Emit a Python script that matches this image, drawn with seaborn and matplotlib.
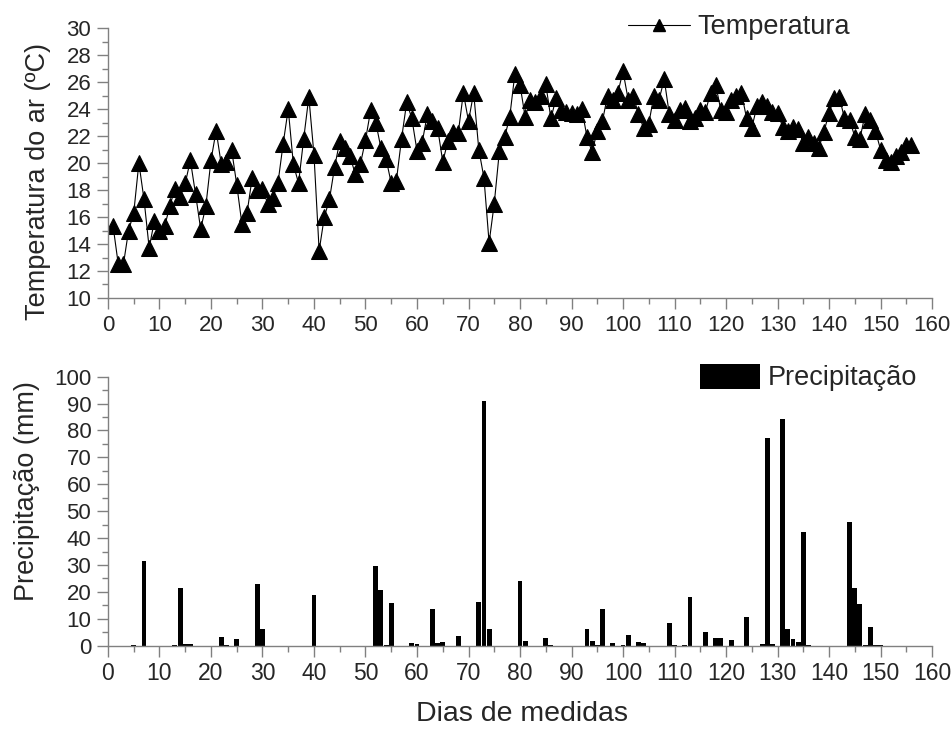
import seaborn as sns
import pandas as pd
import matplotlib.pyplot as plt
import numpy as np
from matplotlib.ticker import MultipleLocator
from matplotlib.lines import Line2D
from matplotlib.patches import Patch

sns.set_theme(style='ticks')
plt.rcParams['font.family'] = ['Liberation Sans', 'DejaVu Sans']

# temperatura media diaria (dias 1..156)
dias = np.arange(1, 157)
temperatura = [
    15.3, 12.5, 12.5, 15.0, 16.3, 20.0, 17.3, 13.7, 15.7, 15.0,
    15.3, 16.8, 18.1, 17.5, 18.5, 20.2, 17.7, 15.1, 16.8, 20.2,
    22.4, 19.9, 20.1, 21.0, 18.4, 15.5, 16.3, 18.9, 18.0, 18.1,
    17.0, 17.4, 18.5, 21.4, 24.0, 19.9, 18.5, 21.8, 24.9, 20.6,
    13.5, 16.0, 17.3, 19.7, 21.6, 21.1, 20.5, 19.2, 19.9, 21.7,
    23.9, 23.0, 21.1, 20.3, 18.5, 18.7, 21.8, 24.5, 23.3, 20.9,
    21.5, 23.6, 23.1, 22.6, 20.1, 21.6, 22.3, 22.2, 25.2, 23.1,
    25.2, 21.0, 18.9, 14.1, 17.0, 20.9, 21.9, 23.4, 26.6, 25.8,
    23.4, 24.7, 24.5, 25.0, 25.85, 23.3, 24.8, 23.9, 23.8, 23.7,
    23.6, 24.0, 21.95, 20.8, 22.4, 23.1, 25.0, 24.7, 25.2, 26.8,
    24.7, 25.0, 23.6, 22.6, 22.9, 25.0, 24.7, 26.2, 23.6, 23.2,
    23.9, 24.1, 23.1, 23.3, 23.9, 23.8, 25.2, 25.8, 23.9, 23.8,
    24.7, 25.0, 25.2, 23.3, 22.6, 24.2, 24.5, 24.2, 23.8, 23.7,
    22.7, 22.4, 22.7, 22.5, 21.5, 21.95, 21.5, 21.1, 22.3, 23.7,
    24.8, 24.9, 23.3, 23.2, 21.95, 21.8, 23.6, 23.2, 22.4, 21.0,
    20.2, 20.05, 20.5, 20.8, 21.3, 21.3,
]

# precipitacao (dias com chuva)
chuva_dias = [5, 7, 13, 14, 15, 16, 22, 23, 25, 29, 30, 40, 52, 53, 54, 55,
              59, 60, 63, 64, 65, 68, 72, 73, 74, 80, 81, 85, 86, 93, 94, 95,
              96, 98, 100, 101, 103, 104, 109, 110, 112, 113, 116, 118, 119,
              121, 124, 127, 128, 129, 131, 132, 133, 134, 135, 136, 144, 145,
              146, 147, 148, 149, 150]
chuva_mm = [0.3, 31.3, 0.3, 21.4, 0.8, 0.5, 3.2, 0.3, 2.5, 23.1, 6.2, 18.7,
            29.5, 20.8, 0.3, 15.7, 1.1, 0.6, 13.7, 1.1, 1.5, 3.6, 16.1, 90.9,
            6.3, 24.1, 1.9, 3.0, 0.3, 6.3, 1.9, 0.3, 13.6, 1.0, 0.4, 4.1,
            1.5, 1.1, 8.6, 0.3, 0.3, 18.1, 5.2, 2.9, 3.0, 2.0, 10.7, 0.5,
            77.1, 0.8, 84.1, 6.2, 2.4, 1.2, 42.3, 0.3, 46.1, 21.3, 15.6, 0.3,
            6.9, 0.3, 0.2]

temp_df = pd.DataFrame({'Dia': dias, 'Temperatura': temperatura})
chuva_df = pd.DataFrame({'Dia': chuva_dias, 'Precipitacao': chuva_mm})

fig = plt.figure(figsize=(9.53, 7.32), dpi=100)
ax1 = fig.add_axes([0.1133, 0.5929, 0.8647, 0.3688])
ax2 = fig.add_axes([0.1133, 0.1179, 0.8647, 0.3675])

sns.lineplot(data=temp_df, x='Dia', y='Temperatura', ax=ax1, color='black',
             lw=0.8, marker='^', markersize=11, markeredgecolor='black', legend=False)
sns.barplot(data=chuva_df, x='Dia', y='Precipitacao', ax=ax2, native_scale=True,
            width=0.95, color='black', saturation=1, edgecolor='none', errorbar=None)

grey = '#808080'
for ax in (ax1, ax2):
    sns.despine(ax=ax)
    ax.set_xlim(0, 160)
    ax.xaxis.set_major_locator(MultipleLocator(10))
    ax.xaxis.set_minor_locator(MultipleLocator(5))
    for s in ('left', 'bottom'):
        ax.spines[s].set_color(grey)
        ax.spines[s].set_linewidth(1.0)
    ax.tick_params(which='major', length=8, width=1, color=grey, labelsize=16, pad=4)
    ax.tick_params(which='minor', length=4.5, width=1, color=grey)
    ax.set_facecolor('white')

ax1.set_ylim(10, 30)
ax1.yaxis.set_major_locator(MultipleLocator(2))
ax1.yaxis.set_minor_locator(MultipleLocator(1))
ax1.set_xlabel('')
ax1.set_ylabel('Temperatura do ar (ºC)', fontsize=19.5)
ax1.yaxis.set_label_coords(-0.069, 0.43)

ax2.set_ylim(0, 100)
ax2.yaxis.set_major_locator(MultipleLocator(10))
ax2.yaxis.set_minor_locator(MultipleLocator(5))
ax2.set_ylabel('Precipitação (mm)', fontsize=19.5)
ax2.yaxis.set_label_coords(-0.083, 0.575)
ax2.set_xlabel('Dias de medidas', fontsize=20.5)
ax2.xaxis.set_label_coords(0.502, -0.205)
for lab in ax2.get_xticklabels():
    lab.set_fontsize(16.5)

h1 = Line2D([], [], color='black', lw=0.8, marker='^', markersize=9)
ax1.legend([h1], ['Temperatura'], loc='center left', frameon=False,
           bbox_to_anchor=(628 / 953, 1 - 27 / 732), bbox_transform=fig.transFigure,
           fontsize=19.5, handlelength=2.3, handletextpad=0.25,
           borderpad=0, borderaxespad=0)
h2 = Patch(facecolor='black', edgecolor='none')
ax2.legend([h2], ['Precipitação'], loc='center left', frameon=False,
           bbox_to_anchor=(700 / 953, 1 - 377.5 / 732), bbox_transform=fig.transFigure,
           fontsize=19.5, handlelength=2.2, handleheight=1.07, handletextpad=0.3,
           borderpad=0, borderaxespad=0)

fig.savefig('out.png', dpi=100, facecolor='white')
